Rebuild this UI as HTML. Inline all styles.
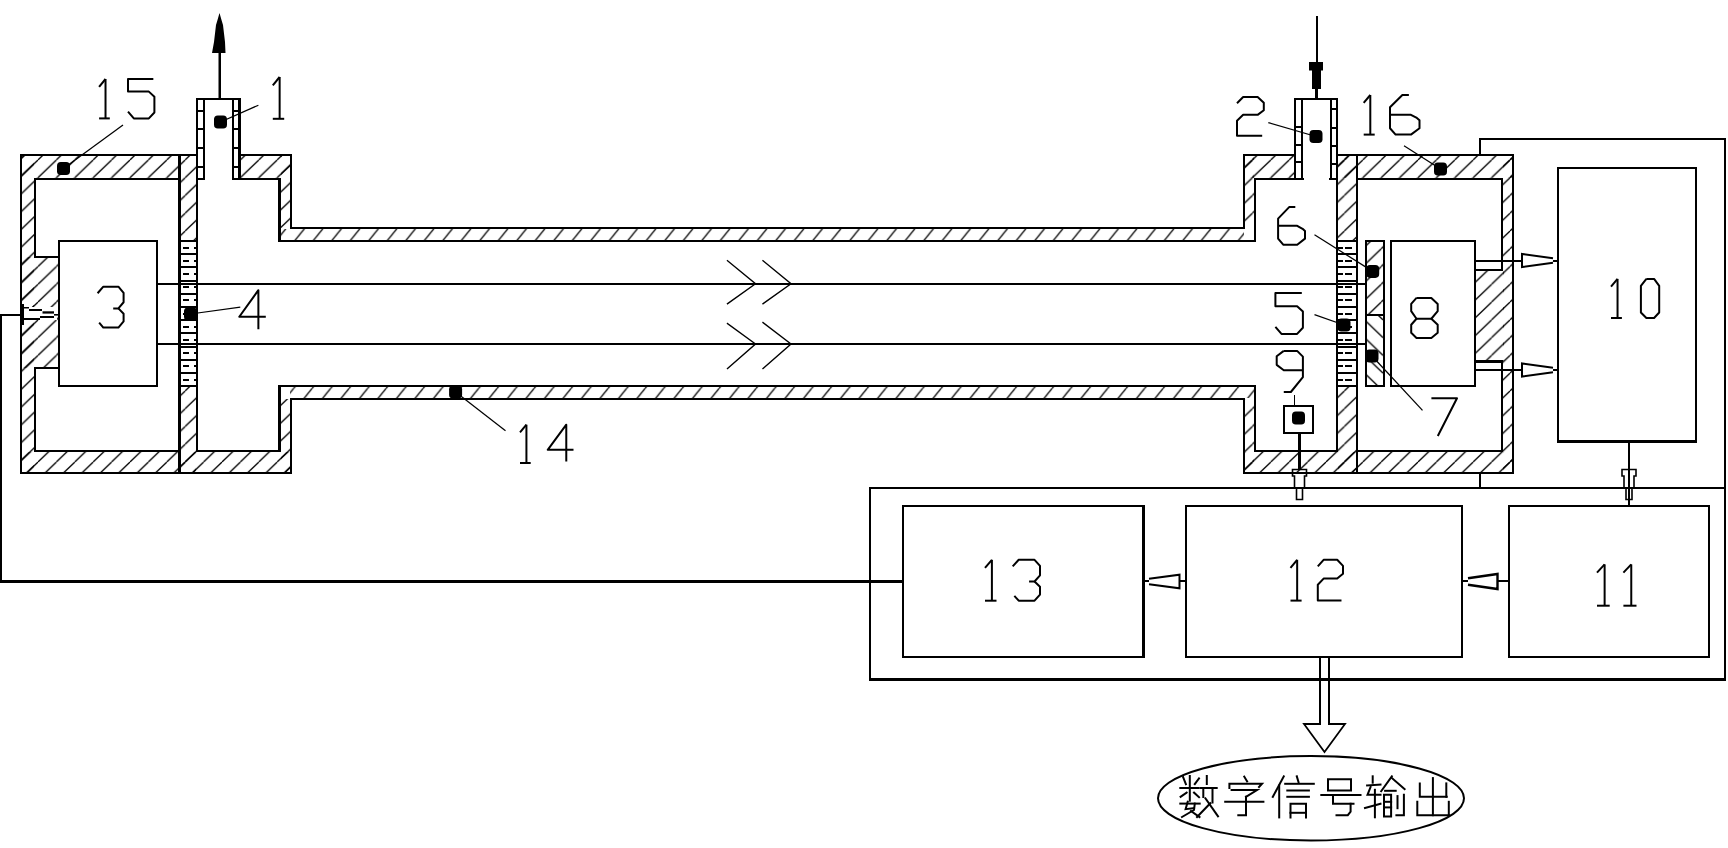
<!DOCTYPE html>
<html><head><meta charset="utf-8"><title>diagram</title>
<style>html,body{margin:0;padding:0;background:#fff;}body{width:1728px;height:848px;overflow:hidden;font-family:"Liberation Sans",sans-serif;}svg{display:block;}</style>
</head><body>
<svg width="1728" height="848" viewBox="0 0 1728 848">
<defs>
<pattern id="h1" patternUnits="userSpaceOnUse" width="18.4" height="17.77" patternTransform="translate(1.2,0)">
  <line x1="-18.4" y1="17.77" x2="0" y2="0" stroke="#000" stroke-width="1.3"/>
  <line x1="0" y1="17.77" x2="18.4" y2="0" stroke="#000" stroke-width="1.3"/>
  <line x1="18.4" y1="17.77" x2="36.8" y2="0" stroke="#000" stroke-width="1.3"/>
</pattern>
<pattern id="h2" patternUnits="userSpaceOnUse" width="18.5" height="22.85" patternTransform="translate(8.6,0)">
  <line x1="-18.5" y1="22.85" x2="0" y2="0" stroke="#000" stroke-width="1.3"/>
  <line x1="0" y1="22.85" x2="18.5" y2="0" stroke="#000" stroke-width="1.3"/>
  <line x1="18.5" y1="22.85" x2="37" y2="0" stroke="#000" stroke-width="1.3"/>
</pattern>
<pattern id="h4" patternUnits="userSpaceOnUse" width="18.5" height="22.85" patternTransform="translate(16.1,0)">
  <line x1="-18.5" y1="22.85" x2="0" y2="0" stroke="#000" stroke-width="1.3"/>
  <line x1="0" y1="22.85" x2="18.5" y2="0" stroke="#000" stroke-width="1.3"/>
  <line x1="18.5" y1="22.85" x2="37" y2="0" stroke="#000" stroke-width="1.3"/>
</pattern>
<pattern id="h3" patternUnits="userSpaceOnUse" width="18.4" height="17.77" patternTransform="translate(3,0)">
  <line x1="-18.4" y1="0" x2="0" y2="17.77" stroke="#000" stroke-width="1.3"/>
  <line x1="0" y1="0" x2="18.4" y2="17.77" stroke="#000" stroke-width="1.3"/>
  <line x1="18.4" y1="0" x2="36.8" y2="17.77" stroke="#000" stroke-width="1.3"/>
</pattern>
</defs>
<rect x="0" y="0" width="1728" height="848" fill="#fff"/>
<g shape-rendering="auto">
<rect x="22" y="156" width="156" height="22" fill="url(#h1)"/>
<rect x="22" y="156" width="12" height="316" fill="url(#h1)"/>
<rect x="22" y="257" width="37" height="111" fill="url(#h1)"/>
<rect x="22" y="452" width="268" height="20" fill="url(#h1)"/>
<rect x="180" y="156" width="16" height="85" fill="url(#h1)"/>
<rect x="180" y="386" width="16" height="86" fill="url(#h1)"/>
<rect x="240" y="156" width="50" height="22" fill="url(#h1)"/>
<rect x="281" y="156" width="9" height="72" fill="url(#h1)"/>
<rect x="281" y="399" width="9" height="73" fill="url(#h1)"/>
<rect x="281" y="229" width="963" height="11" fill="url(#h2)"/>
<rect x="290" y="387" width="964" height="11" fill="url(#h4)"/>
<rect x="1245" y="156" width="9" height="72" fill="url(#h1)"/>
<rect x="1245" y="399" width="9" height="73" fill="url(#h1)"/>
<rect x="1245" y="156" width="50" height="22" fill="url(#h1)"/>
<rect x="1338" y="156" width="174" height="22" fill="url(#h1)"/>
<rect x="1338" y="156" width="18" height="85" fill="url(#h1)"/>
<rect x="1338" y="386" width="18" height="86" fill="url(#h1)"/>
<rect x="1503" y="156" width="9" height="316" fill="url(#h1)"/>
<rect x="1245" y="452" width="267" height="20" fill="url(#h1)"/>
<rect x="1476" y="270" width="28" height="91" fill="url(#h1)"/>
<rect x="1366" y="242" width="18" height="72" fill="url(#h1)"/>
<rect x="1366" y="316" width="18" height="69" fill="url(#h3)"/>
</g>
<g shape-rendering="crispEdges">
<rect x="20" y="154" width="2" height="320"/>
<rect x="20" y="154" width="177" height="2"/>
<rect x="240" y="154" width="52" height="2"/>
<rect x="34" y="178" width="2" height="80"/>
<rect x="34" y="367" width="2" height="85"/>
<rect x="34" y="178" width="146" height="2"/>
<rect x="34" y="256" width="25" height="2"/>
<rect x="34" y="367" width="25" height="2"/>
<rect x="178" y="154" width="3" height="320"/>
<rect x="196" y="98" width="2" height="354"/>
<rect x="196" y="98" width="45" height="2"/>
<rect x="203" y="98" width="2" height="82"/>
<rect x="232" y="98" width="2" height="82"/>
<rect x="238" y="100" width="3" height="80"/>
<rect x="196" y="178" width="9" height="2"/>
<rect x="232" y="178" width="49" height="2"/>
<rect x="278" y="178" width="3" height="64"/>
<rect x="278" y="385" width="3" height="67"/>
<rect x="290" y="154" width="2" height="75"/>
<rect x="290" y="398" width="2" height="76"/>
<rect x="34" y="450" width="146" height="2"/>
<rect x="196" y="450" width="85" height="2"/>
<rect x="20" y="472" width="272" height="2"/>
<rect x="196" y="110" width="9" height="2"/>
<rect x="232" y="110" width="9" height="2"/>
<rect x="196" y="128" width="9" height="2"/>
<rect x="232" y="128" width="9" height="2"/>
<rect x="196" y="147" width="9" height="2"/>
<rect x="232" y="147" width="9" height="2"/>
<rect x="196" y="166" width="9" height="2"/>
<rect x="232" y="166" width="9" height="2"/>
<rect x="290" y="227" width="955" height="2"/>
<rect x="279" y="240" width="977" height="2"/>
<rect x="279" y="385" width="977" height="2"/>
<rect x="290" y="398" width="955" height="2"/>
<rect x="58" y="240" width="100" height="2"/>
<rect x="58" y="385" width="100" height="2"/>
<rect x="58" y="240" width="2" height="147"/>
<rect x="156" y="240" width="2" height="147"/>
<rect x="180" y="240" width="17" height="2"/>
<rect x="183" y="247" width="6" height="2"/>
<rect x="194" y="247" width="2" height="2"/>
<rect x="180" y="253" width="17" height="2"/>
<rect x="183" y="260" width="6" height="2"/>
<rect x="194" y="260" width="2" height="2"/>
<rect x="180" y="266" width="17" height="2"/>
<rect x="183" y="273" width="6" height="2"/>
<rect x="194" y="273" width="2" height="2"/>
<rect x="180" y="280" width="17" height="2"/>
<rect x="183" y="286" width="6" height="2"/>
<rect x="194" y="286" width="2" height="2"/>
<rect x="180" y="293" width="17" height="2"/>
<rect x="183" y="299" width="6" height="2"/>
<rect x="194" y="299" width="2" height="2"/>
<rect x="180" y="306" width="17" height="2"/>
<rect x="183" y="313" width="6" height="2"/>
<rect x="194" y="313" width="2" height="2"/>
<rect x="180" y="319" width="17" height="2"/>
<rect x="183" y="326" width="6" height="2"/>
<rect x="194" y="326" width="2" height="2"/>
<rect x="180" y="332" width="17" height="2"/>
<rect x="183" y="339" width="6" height="2"/>
<rect x="194" y="339" width="2" height="2"/>
<rect x="180" y="346" width="17" height="2"/>
<rect x="183" y="352" width="6" height="2"/>
<rect x="194" y="352" width="2" height="2"/>
<rect x="180" y="359" width="17" height="2"/>
<rect x="183" y="365" width="6" height="2"/>
<rect x="194" y="365" width="2" height="2"/>
<rect x="180" y="372" width="17" height="2"/>
<rect x="183" y="379" width="6" height="2"/>
<rect x="194" y="379" width="2" height="2"/>
<rect x="180" y="385" width="17" height="2"/>
<rect x="1243" y="154" width="2" height="75"/>
<rect x="1243" y="398" width="2" height="76"/>
<rect x="1254" y="178" width="2" height="64"/>
<rect x="1254" y="385" width="2" height="67"/>
<rect x="1243" y="154" width="53" height="2"/>
<rect x="1337" y="154" width="177" height="2"/>
<rect x="1254" y="178" width="50" height="2"/>
<rect x="1356" y="178" width="147" height="2"/>
<rect x="1294" y="98" width="44" height="2"/>
<rect x="1294" y="98" width="2" height="82"/>
<rect x="1301" y="98" width="2" height="82"/>
<rect x="1330" y="98" width="2" height="82"/>
<rect x="1329" y="178" width="9" height="2"/>
<rect x="1336" y="98" width="2" height="354"/>
<rect x="1356" y="154" width="2" height="320"/>
<rect x="1294" y="126" width="9" height="2"/>
<rect x="1294" y="144" width="9" height="2"/>
<rect x="1294" y="161" width="9" height="2"/>
<rect x="1330" y="108" width="8" height="2"/>
<rect x="1330" y="127" width="8" height="2"/>
<rect x="1330" y="145" width="8" height="2"/>
<rect x="1330" y="163" width="8" height="2"/>
<rect x="1512" y="154" width="2" height="320"/>
<rect x="1501" y="178" width="2" height="92"/>
<rect x="1501" y="360" width="2" height="92"/>
<rect x="1254" y="450" width="84" height="2"/>
<rect x="1356" y="450" width="147" height="2"/>
<rect x="1243" y="472" width="271" height="2"/>
<rect x="1338" y="240" width="19" height="2"/>
<rect x="1338" y="247" width="5" height="2"/>
<rect x="1345" y="247" width="7" height="2"/>
<rect x="1338" y="253" width="19" height="2"/>
<rect x="1338" y="260" width="5" height="2"/>
<rect x="1345" y="260" width="7" height="2"/>
<rect x="1338" y="266" width="19" height="2"/>
<rect x="1338" y="273" width="5" height="2"/>
<rect x="1345" y="273" width="7" height="2"/>
<rect x="1338" y="280" width="19" height="2"/>
<rect x="1338" y="286" width="5" height="2"/>
<rect x="1345" y="286" width="7" height="2"/>
<rect x="1338" y="293" width="19" height="2"/>
<rect x="1338" y="299" width="5" height="2"/>
<rect x="1345" y="299" width="7" height="2"/>
<rect x="1338" y="306" width="19" height="2"/>
<rect x="1338" y="313" width="5" height="2"/>
<rect x="1345" y="313" width="7" height="2"/>
<rect x="1338" y="319" width="19" height="2"/>
<rect x="1338" y="326" width="5" height="2"/>
<rect x="1345" y="326" width="7" height="2"/>
<rect x="1338" y="332" width="19" height="2"/>
<rect x="1338" y="339" width="5" height="2"/>
<rect x="1345" y="339" width="7" height="2"/>
<rect x="1338" y="346" width="19" height="2"/>
<rect x="1338" y="352" width="5" height="2"/>
<rect x="1345" y="352" width="7" height="2"/>
<rect x="1338" y="359" width="19" height="2"/>
<rect x="1338" y="365" width="5" height="2"/>
<rect x="1345" y="365" width="7" height="2"/>
<rect x="1338" y="372" width="19" height="2"/>
<rect x="1338" y="379" width="5" height="2"/>
<rect x="1345" y="379" width="7" height="2"/>
<rect x="1338" y="385" width="19" height="2"/>
<rect x="1365" y="240" width="20" height="2"/>
<rect x="1365" y="385" width="20" height="2"/>
<rect x="1365" y="240" width="2" height="147"/>
<rect x="1383" y="240" width="2" height="147"/>
<rect x="1365" y="314" width="20" height="2"/>
<rect x="1390" y="240" width="86" height="2"/>
<rect x="1390" y="385" width="86" height="2"/>
<rect x="1390" y="240" width="2" height="147"/>
<rect x="1474" y="240" width="2" height="147"/>
<rect x="1475" y="269" width="28" height="2"/>
<rect x="1475" y="360" width="28" height="3"/>
<rect x="1475" y="260" width="83" height="2"/>
<rect x="1475" y="369" width="83" height="2"/>
<rect x="157" y="283" width="1209" height="2"/>
<rect x="157" y="343" width="1209" height="2"/>
<rect x="1283" y="405" width="31" height="2"/>
<rect x="1283" y="432" width="31" height="2"/>
<rect x="1283" y="405" width="2" height="29"/>
<rect x="1312" y="405" width="2" height="29"/>
<rect x="1294" y="395" width="1" height="10"/>
<rect x="1298" y="434" width="3" height="36"/>
<rect x="1479" y="138" width="247" height="2"/>
<rect x="1479" y="138" width="2" height="17"/>
<rect x="1479" y="472" width="2" height="17"/>
<rect x="1724" y="138" width="2" height="543"/>
<rect x="869" y="487" width="857" height="2"/>
<rect x="869" y="487" width="2" height="194"/>
<rect x="869" y="678" width="857" height="3"/>
<rect x="1557" y="167" width="140" height="2"/>
<rect x="1557" y="441" width="140" height="2"/>
<rect x="1557" y="167" width="2" height="276"/>
<rect x="1695" y="167" width="2" height="276"/>
<rect x="1557" y="440" width="140" height="3"/>
<rect x="902" y="505" width="243" height="2"/>
<rect x="902" y="656" width="243" height="2"/>
<rect x="902" y="505" width="2" height="153"/>
<rect x="1143" y="505" width="2" height="153"/>
<rect x="1142" y="505" width="3" height="153"/>
<rect x="1185" y="505" width="278" height="2"/>
<rect x="1185" y="656" width="278" height="2"/>
<rect x="1185" y="505" width="2" height="153"/>
<rect x="1461" y="505" width="2" height="153"/>
<rect x="1508" y="505" width="202" height="2"/>
<rect x="1508" y="656" width="202" height="2"/>
<rect x="1508" y="505" width="2" height="153"/>
<rect x="1708" y="505" width="2" height="153"/>
<rect x="1628" y="442" width="2" height="64"/>
<rect x="1462" y="580" width="47" height="2"/>
<rect x="1144" y="580" width="42" height="2"/>
<rect x="0" y="580" width="903" height="3"/>
<rect x="0" y="314" width="2" height="269"/>
<rect x="0" y="314" width="22" height="2"/>
<rect x="20" y="304" width="4" height="21"/>
<rect x="1319" y="657" width="2" height="68"/>
<rect x="1328" y="657" width="2" height="68"/>
</g>
<rect x="22" y="307" width="35" height="13" fill="#fff"/>
<rect x="24" y="307" width="5" height="1.5"/>
<rect x="29" y="309" width="13" height="2"/>
<rect x="42.5" y="311.3" width="11.5" height="2.3"/>
<rect x="40" y="316" width="14" height="2"/>
<rect x="24" y="318" width="16" height="2"/>
<rect x="54" y="314" width="4" height="1.6"/>
<rect x="20" y="304" width="4" height="21"/>
<polyline points="727.50,260.70 755.50,283.70 727.50,303.70" fill="none" stroke="#000" stroke-width="1.4" stroke-linejoin="miter" stroke-linecap="square" stroke-linecap="butt"/>
<polyline points="763.00,260.70 791.00,283.70 763.00,303.70" fill="none" stroke="#000" stroke-width="1.4" stroke-linejoin="miter" stroke-linecap="square" stroke-linecap="butt"/>
<polyline points="727.50,323.50 755.50,344.00 727.50,368.50" fill="none" stroke="#000" stroke-width="1.4" stroke-linejoin="miter" stroke-linecap="square" stroke-linecap="butt"/>
<polyline points="763.00,322.50 791.00,344.00 763.00,368.50" fill="none" stroke="#000" stroke-width="1.4" stroke-linejoin="miter" stroke-linecap="square" stroke-linecap="butt"/>
<polygon points="219.5,13 221.5,20 223,25 225,42 225.5,53 212,53 214,42 216,25 217.5,20"/>
<rect x="218.5" y="52" width="2.5" height="46"/>
<rect x="1316" y="16" width="2" height="48"/>
<polygon points="1309,62 1323,62 1323,70.5 1321,70.5 1321,89 1318,89 1318,98.5 1315,98.5 1315,89 1312,89 1312,70.5 1309,70.5"/>
<path d="M1553,258.3 L1522,254.0 L1522,267.0 L1553,262.7" fill="#fff" stroke="#000" stroke-width="2.0" stroke-linejoin="miter"/>
<path d="M1553,367.8 L1522,363.5 L1522,376.5 L1553,372.2" fill="#fff" stroke="#000" stroke-width="2.0" stroke-linejoin="miter"/>
<path d="M1149,578.7 L1179.5,574.7 L1179.5,588.3 L1149,584.3" fill="#fff" stroke="#000" stroke-width="2.0" stroke-linejoin="miter"/>
<path d="M1468,578.3 L1497.5,574.0 L1497.5,589.0 L1468,584.7" fill="#fff" stroke="#000" stroke-width="2.4" stroke-linejoin="miter"/>
<polyline points="1622.00,476.00 1622.00,469.50 1636.00,469.50 1636.00,476.00 1634.00,476.00 1634.00,487.50 1632.00,488.50 1632.00,499.50 1626.00,499.50 1626.00,488.50 1624.00,487.50 1624.00,476.00 1622.00,476.00" fill="none" stroke="#000" stroke-width="1.6" stroke-linejoin="miter" stroke-linecap="square" />
<polyline points="1292.50,476.00 1292.50,469.50 1306.50,469.50 1306.50,476.00 1304.50,476.00 1304.50,487.50 1302.50,488.50 1302.50,499.50 1296.50,499.50 1296.50,488.50 1294.50,487.50 1294.50,476.00 1292.50,476.00" fill="none" stroke="#000" stroke-width="1.6" stroke-linejoin="miter" stroke-linecap="square" />
<polyline points="1319.00,724.00 1304.00,724.00 1324.50,752.00 1345.00,724.00 1330.00,724.00" fill="none" stroke="#000" stroke-width="1.8" stroke-linejoin="miter" stroke-linecap="square" />
<ellipse cx="1311" cy="798.3" rx="153" ry="42.2" fill="none" stroke="#000" stroke-width="2"/>
<rect x="57.0" y="162.0" width="13.0" height="13.0" rx="3.8"/>
<rect x="214.0" y="115.5" width="13.0" height="13.0" rx="3.8"/>
<rect x="184.0" y="307.5" width="13.0" height="13.0" rx="3.8"/>
<rect x="449.1" y="385.5" width="13.0" height="13.0" rx="3.8"/>
<rect x="1309.5" y="130.0" width="13.0" height="13.0" rx="3.8"/>
<rect x="1434.0" y="162.5" width="13.0" height="13.0" rx="3.8"/>
<rect x="1366.2" y="264.9" width="13.0" height="13.0" rx="3.8"/>
<rect x="1337.5" y="318.5" width="13.0" height="13.0" rx="3.8"/>
<rect x="1365.5" y="349.5" width="13.0" height="13.0" rx="3.8"/>
<rect x="1292.0" y="411.5" width="13.0" height="13.0" rx="3.8"/>
<line x1="63.5" y1="168.5" x2="123" y2="125" stroke="#000" stroke-width="1.25" />
<line x1="220.5" y1="122" x2="258.4" y2="105.2" stroke="#000" stroke-width="1.25" />
<line x1="190.5" y1="314" x2="240.3" y2="307.2" stroke="#000" stroke-width="1.25" />
<line x1="455.6" y1="392" x2="505.5" y2="430.7" stroke="#000" stroke-width="1.25" />
<line x1="1268.3" y1="122.6" x2="1316" y2="136.5" stroke="#000" stroke-width="1.25" />
<line x1="1404" y1="145.8" x2="1440.5" y2="169" stroke="#000" stroke-width="1.25" />
<line x1="1314.5" y1="234.7" x2="1372.7" y2="271.4" stroke="#000" stroke-width="1.25" />
<line x1="1314.5" y1="314.7" x2="1344" y2="325" stroke="#000" stroke-width="1.25" />
<line x1="1372" y1="356" x2="1422.5" y2="410.4" stroke="#000" stroke-width="1.25" />
<polyline points="99.10,86.88 105.52,79.00" fill="none" stroke="#000" stroke-width="2.0" stroke-linejoin="round" stroke-linecap="butt"/>
<polyline points="105.52,79.00 105.52,118.40" fill="none" stroke="#000" stroke-width="2.0" stroke-linejoin="round" stroke-linecap="butt"/>
<polyline points="99.10,118.40 109.80,118.40" fill="none" stroke="#000" stroke-width="2.0" stroke-linejoin="round" stroke-linecap="butt"/>
<polyline points="153.34,79.00 128.00,79.00 128.00,91.61 148.86,91.61 154.40,96.73 154.40,112.49 148.86,118.40 133.81,118.40 128.00,111.70" fill="none" stroke="#000" stroke-width="2.0" stroke-linejoin="round" stroke-linecap="butt"/>
<polyline points="272.80,85.36 279.64,77.00" fill="none" stroke="#000" stroke-width="2.0" stroke-linejoin="round" stroke-linecap="butt"/>
<polyline points="279.64,77.00 279.64,118.80" fill="none" stroke="#000" stroke-width="2.0" stroke-linejoin="round" stroke-linecap="butt"/>
<polyline points="272.80,118.80 284.20,118.80" fill="none" stroke="#000" stroke-width="2.0" stroke-linejoin="round" stroke-linecap="butt"/>
<polyline points="1237.00,103.21 1243.16,97.00 1257.64,97.00 1263.80,102.82 1263.80,110.19 1257.64,114.85 1243.16,114.85 1237.00,120.67 1237.00,135.80 1262.19,135.80" fill="none" stroke="#000" stroke-width="2.0" stroke-linejoin="round" stroke-linecap="butt"/>
<polyline points="1363.70,102.92 1370.30,95.00" fill="none" stroke="#000" stroke-width="2.0" stroke-linejoin="round" stroke-linecap="butt"/>
<polyline points="1370.30,95.00 1370.30,134.60" fill="none" stroke="#000" stroke-width="2.0" stroke-linejoin="round" stroke-linecap="butt"/>
<polyline points="1363.70,134.60 1374.70,134.60" fill="none" stroke="#000" stroke-width="2.0" stroke-linejoin="round" stroke-linecap="butt"/>
<polyline points="1408.88,95.00 1402.39,95.00 1390.00,107.28 1390.00,128.26 1395.61,134.60 1410.94,134.60 1419.50,128.26 1419.50,120.34 1416.85,117.97 1410.94,114.80 1390.00,114.80" fill="none" stroke="#000" stroke-width="2.0" stroke-linejoin="round" stroke-linecap="butt"/>
<polyline points="97.60,293.24 103.32,286.70 118.40,286.70 123.60,292.83 123.60,302.24 118.40,308.38 113.20,308.38" fill="none" stroke="#000" stroke-width="2.0" stroke-linejoin="round" stroke-linecap="butt"/>
<polyline points="118.40,308.38 123.60,313.69 123.60,321.47 118.40,327.60 103.32,327.60 99.16,322.69" fill="none" stroke="#000" stroke-width="2.0" stroke-linejoin="round" stroke-linecap="butt"/>
<polyline points="258.38,329.30 258.38,290.20 239.30,316.79 265.80,316.79" fill="none" stroke="#000" stroke-width="2.0" stroke-linejoin="round" stroke-linecap="butt"/>
<polyline points="1295.32,206.90 1289.40,206.90 1278.10,218.62 1278.10,238.65 1283.21,244.70 1297.20,244.70 1305.00,238.65 1305.00,231.09 1302.58,228.82 1297.20,225.80 1278.10,225.80" fill="none" stroke="#000" stroke-width="2.0" stroke-linejoin="round" stroke-linecap="butt"/>
<polyline points="1301.80,293.10 1275.40,293.10 1275.40,306.16 1297.12,306.16 1302.90,311.46 1302.90,327.78 1297.12,333.90 1281.45,333.90 1275.40,326.96" fill="none" stroke="#000" stroke-width="2.0" stroke-linejoin="round" stroke-linecap="butt"/>
<polyline points="1283.77,350.90 1297.14,350.90 1302.90,356.65 1302.90,377.20 1290.85,392.00 1283.77,392.00" fill="none" stroke="#000" stroke-width="2.0" stroke-linejoin="round" stroke-linecap="butt"/>
<polyline points="1283.77,350.90 1276.70,356.24 1276.70,364.87 1283.77,370.22 1302.90,370.22" fill="none" stroke="#000" stroke-width="2.0" stroke-linejoin="round" stroke-linecap="butt"/>
<polyline points="1416.50,297.90 1431.34,297.90 1437.70,303.91 1437.70,311.13 1431.34,318.75 1437.70,324.77 1437.70,332.79 1431.34,338.00 1416.50,338.00 1411.20,332.79 1411.20,324.77 1416.50,318.75 1411.20,311.13 1411.20,303.91 1416.50,297.90" fill="none" stroke="#000" stroke-width="2.0" stroke-linejoin="round" stroke-linecap="butt"/>
<polyline points="1416.50,318.75 1431.34,318.75" fill="none" stroke="#000" stroke-width="2.0" stroke-linejoin="round" stroke-linecap="butt"/>
<polyline points="1431.40,398.20 1457.00,398.20 1437.80,436.00" fill="none" stroke="#000" stroke-width="2.0" stroke-linejoin="round" stroke-linecap="butt"/>
<polyline points="1611.00,286.72 1617.54,278.90" fill="none" stroke="#000" stroke-width="2.0" stroke-linejoin="round" stroke-linecap="butt"/>
<polyline points="1617.54,278.90 1617.54,318.00" fill="none" stroke="#000" stroke-width="2.0" stroke-linejoin="round" stroke-linecap="butt"/>
<polyline points="1611.00,318.00 1621.90,318.00" fill="none" stroke="#000" stroke-width="2.0" stroke-linejoin="round" stroke-linecap="butt"/>
<polyline points="1646.39,278.90 1654.08,278.90 1659.20,285.94 1659.20,312.53 1654.08,318.00 1646.39,318.00 1640.90,312.53 1640.90,285.94 1646.39,278.90" fill="none" stroke="#000" stroke-width="2.0" stroke-linejoin="round" stroke-linecap="butt"/>
<polyline points="1597.00,572.66 1604.62,564.40" fill="none" stroke="#000" stroke-width="2.0" stroke-linejoin="round" stroke-linecap="butt"/>
<polyline points="1604.62,564.40 1604.62,605.70" fill="none" stroke="#000" stroke-width="2.0" stroke-linejoin="round" stroke-linecap="butt"/>
<polyline points="1597.00,605.70 1609.70,605.70" fill="none" stroke="#000" stroke-width="2.0" stroke-linejoin="round" stroke-linecap="butt"/>
<polyline points="1623.40,572.66 1631.26,564.40" fill="none" stroke="#000" stroke-width="2.0" stroke-linejoin="round" stroke-linecap="butt"/>
<polyline points="1631.26,564.40 1631.26,605.70" fill="none" stroke="#000" stroke-width="2.0" stroke-linejoin="round" stroke-linecap="butt"/>
<polyline points="1623.40,605.70 1636.50,605.70" fill="none" stroke="#000" stroke-width="2.0" stroke-linejoin="round" stroke-linecap="butt"/>
<polyline points="1290.50,567.96 1297.16,559.80" fill="none" stroke="#000" stroke-width="2.0" stroke-linejoin="round" stroke-linecap="butt"/>
<polyline points="1297.16,559.80 1297.16,600.60" fill="none" stroke="#000" stroke-width="2.0" stroke-linejoin="round" stroke-linecap="butt"/>
<polyline points="1290.50,600.60 1301.60,600.60" fill="none" stroke="#000" stroke-width="2.0" stroke-linejoin="round" stroke-linecap="butt"/>
<polyline points="1317.80,566.33 1323.60,559.80 1337.20,559.80 1343.00,565.92 1343.00,573.67 1337.20,578.57 1323.60,578.57 1317.80,584.69 1317.80,600.60 1341.49,600.60" fill="none" stroke="#000" stroke-width="2.0" stroke-linejoin="round" stroke-linecap="butt"/>
<polyline points="985.00,567.98 991.90,559.80" fill="none" stroke="#000" stroke-width="2.0" stroke-linejoin="round" stroke-linecap="butt"/>
<polyline points="991.90,559.80 991.90,600.70" fill="none" stroke="#000" stroke-width="2.0" stroke-linejoin="round" stroke-linecap="butt"/>
<polyline points="985.00,600.70 996.50,600.70" fill="none" stroke="#000" stroke-width="2.0" stroke-linejoin="round" stroke-linecap="butt"/>
<polyline points="1012.70,566.34 1018.71,559.80 1034.54,559.80 1040.00,565.93 1040.00,575.34 1034.54,581.48 1029.08,581.48" fill="none" stroke="#000" stroke-width="2.0" stroke-linejoin="round" stroke-linecap="butt"/>
<polyline points="1034.54,581.48 1040.00,586.79 1040.00,594.57 1034.54,600.70 1018.71,600.70 1014.34,595.79" fill="none" stroke="#000" stroke-width="2.0" stroke-linejoin="round" stroke-linecap="butt"/>
<polyline points="520.00,432.36 526.42,424.70" fill="none" stroke="#000" stroke-width="2.0" stroke-linejoin="round" stroke-linecap="butt"/>
<polyline points="526.42,424.70 526.42,463.00" fill="none" stroke="#000" stroke-width="2.0" stroke-linejoin="round" stroke-linecap="butt"/>
<polyline points="520.00,463.00 530.70,463.00" fill="none" stroke="#000" stroke-width="2.0" stroke-linejoin="round" stroke-linecap="butt"/>
<polyline points="566.28,461.60 566.28,424.70 547.70,449.79 573.50,449.79" fill="none" stroke="#000" stroke-width="2.0" stroke-linejoin="round" stroke-linecap="butt"/>
<polyline points="1189.80,776.00 1189.80,800.70" fill="none" stroke="#000" stroke-width="2.0" stroke-linejoin="miter" stroke-linecap="square"/>
<polyline points="1183.10,777.00 1185.90,784.10" fill="none" stroke="#000" stroke-width="2.0" stroke-linejoin="miter" stroke-linecap="square"/>
<polyline points="1199.00,778.40 1194.80,784.10" fill="none" stroke="#000" stroke-width="2.0" stroke-linejoin="miter" stroke-linecap="square"/>
<polyline points="1180.30,788.00 1198.50,788.00" fill="none" stroke="#000" stroke-width="2.0" stroke-linejoin="miter" stroke-linecap="square"/>
<polyline points="1186.60,792.60 1180.60,796.80" fill="none" stroke="#000" stroke-width="2.0" stroke-linejoin="miter" stroke-linecap="square"/>
<polyline points="1194.00,792.60 1199.00,797.20" fill="none" stroke="#000" stroke-width="2.0" stroke-linejoin="miter" stroke-linecap="square"/>
<polyline points="1180.30,803.60 1199.70,803.60" fill="none" stroke="#000" stroke-width="2.0" stroke-linejoin="miter" stroke-linecap="square"/>
<polyline points="1187.70,801.80 1185.60,809.20 1194.00,808.20" fill="none" stroke="#000" stroke-width="2.0" stroke-linejoin="miter" stroke-linecap="square"/>
<polyline points="1194.80,803.60 1194.00,810.00 1182.00,817.00" fill="none" stroke="#000" stroke-width="2.0" stroke-linejoin="miter" stroke-linecap="square"/>
<polyline points="1191.00,811.00 1199.50,817.00" fill="none" stroke="#000" stroke-width="2.0" stroke-linejoin="miter" stroke-linecap="square"/>
<polyline points="1206.80,776.00 1206.80,784.00" fill="none" stroke="#000" stroke-width="2.0" stroke-linejoin="miter" stroke-linecap="square"/>
<polyline points="1200.40,788.00 1216.70,788.00" fill="none" stroke="#000" stroke-width="2.0" stroke-linejoin="miter" stroke-linecap="square"/>
<polyline points="1203.30,788.00 1203.30,797.00" fill="none" stroke="#000" stroke-width="2.0" stroke-linejoin="miter" stroke-linecap="square"/>
<polyline points="1212.50,788.00 1212.50,802.50" fill="none" stroke="#000" stroke-width="2.0" stroke-linejoin="miter" stroke-linecap="square"/>
<polyline points="1205.40,798.30 1218.00,816.30" fill="none" stroke="#000" stroke-width="2.0" stroke-linejoin="miter" stroke-linecap="square"/>
<polyline points="1210.30,803.20 1197.00,817.00" fill="none" stroke="#000" stroke-width="2.0" stroke-linejoin="miter" stroke-linecap="square"/>
<polyline points="1244.30,776.70 1247.10,781.30" fill="none" stroke="#000" stroke-width="2.0" stroke-linejoin="miter" stroke-linecap="square"/>
<polyline points="1229.40,788.00 1229.40,783.80 1262.00,783.80 1259.00,787.00" fill="none" stroke="#000" stroke-width="2.0" stroke-linejoin="miter" stroke-linecap="square"/>
<polyline points="1231.60,790.10 1257.00,790.10 1246.00,796.80" fill="none" stroke="#000" stroke-width="2.0" stroke-linejoin="miter" stroke-linecap="square"/>
<polyline points="1246.00,796.80 1246.00,815.20 1238.30,815.20" fill="none" stroke="#000" stroke-width="2.0" stroke-linejoin="miter" stroke-linecap="square"/>
<polyline points="1225.20,801.80 1263.40,801.80" fill="none" stroke="#000" stroke-width="2.0" stroke-linejoin="miter" stroke-linecap="square"/>
<polyline points="1283.80,776.30 1272.80,796.80" fill="none" stroke="#000" stroke-width="2.0" stroke-linejoin="miter" stroke-linecap="square"/>
<polyline points="1279.20,785.50 1279.20,817.40" fill="none" stroke="#000" stroke-width="2.0" stroke-linejoin="miter" stroke-linecap="square"/>
<polyline points="1296.80,776.30 1298.50,782.00" fill="none" stroke="#000" stroke-width="2.0" stroke-linejoin="miter" stroke-linecap="square"/>
<polyline points="1285.20,783.80 1313.80,783.80" fill="none" stroke="#000" stroke-width="2.0" stroke-linejoin="miter" stroke-linecap="square"/>
<polyline points="1287.30,790.50 1308.90,790.50" fill="none" stroke="#000" stroke-width="2.0" stroke-linejoin="miter" stroke-linecap="square"/>
<polyline points="1287.30,796.80 1308.90,796.80" fill="none" stroke="#000" stroke-width="2.0" stroke-linejoin="miter" stroke-linecap="square"/>
<polyline points="1290.50,817.40 1290.50,803.80 1306.00,803.80 1306.00,817.40" fill="none" stroke="#000" stroke-width="2.0" stroke-linejoin="miter" stroke-linecap="square"/>
<polyline points="1290.50,812.80 1306.00,812.80" fill="none" stroke="#000" stroke-width="2.0" stroke-linejoin="miter" stroke-linecap="square"/>
<polyline points="1328.00,779.20 1351.00,779.20 1351.00,790.50 1328.00,790.50 1328.00,779.20" fill="none" stroke="#000" stroke-width="2.0" stroke-linejoin="miter" stroke-linecap="square"/>
<polyline points="1321.30,795.00 1360.50,795.00" fill="none" stroke="#000" stroke-width="2.0" stroke-linejoin="miter" stroke-linecap="square"/>
<polyline points="1333.00,795.00 1333.00,803.80 1353.50,803.80" fill="none" stroke="#000" stroke-width="2.0" stroke-linejoin="miter" stroke-linecap="square"/>
<polyline points="1350.60,803.80 1350.60,811.70 1347.80,815.20 1336.50,815.20" fill="none" stroke="#000" stroke-width="2.0" stroke-linejoin="miter" stroke-linecap="square"/>
<polyline points="1372.70,776.30 1372.70,782.70" fill="none" stroke="#000" stroke-width="2.0" stroke-linejoin="miter" stroke-linecap="square"/>
<polyline points="1367.10,785.50 1380.50,784.50" fill="none" stroke="#000" stroke-width="2.0" stroke-linejoin="miter" stroke-linecap="square"/>
<polyline points="1370.60,787.00 1367.50,794.80 1380.50,794.80" fill="none" stroke="#000" stroke-width="2.0" stroke-linejoin="miter" stroke-linecap="square"/>
<polyline points="1374.90,789.80 1374.90,817.30" fill="none" stroke="#000" stroke-width="2.0" stroke-linejoin="miter" stroke-linecap="square"/>
<polyline points="1365.00,808.00 1380.50,803.80" fill="none" stroke="#000" stroke-width="2.0" stroke-linejoin="miter" stroke-linecap="square"/>
<polyline points="1391.80,776.30 1381.20,791.20" fill="none" stroke="#000" stroke-width="2.0" stroke-linejoin="miter" stroke-linecap="square"/>
<polyline points="1391.80,778.00 1404.60,789.00" fill="none" stroke="#000" stroke-width="2.0" stroke-linejoin="miter" stroke-linecap="square"/>
<polyline points="1385.10,790.80 1395.70,790.80" fill="none" stroke="#000" stroke-width="2.0" stroke-linejoin="miter" stroke-linecap="square"/>
<polyline points="1384.00,816.60 1384.00,794.70 1391.10,794.70 1391.10,816.60 1384.00,816.60" fill="none" stroke="#000" stroke-width="2.0" stroke-linejoin="miter" stroke-linecap="square"/>
<polyline points="1384.00,801.80 1391.10,801.80" fill="none" stroke="#000" stroke-width="2.0" stroke-linejoin="miter" stroke-linecap="square"/>
<polyline points="1384.00,807.40 1391.10,807.40" fill="none" stroke="#000" stroke-width="2.0" stroke-linejoin="miter" stroke-linecap="square"/>
<polyline points="1397.50,796.10 1397.50,808.20" fill="none" stroke="#000" stroke-width="2.0" stroke-linejoin="miter" stroke-linecap="square"/>
<polyline points="1403.90,794.70 1403.90,815.20 1396.40,815.20" fill="none" stroke="#000" stroke-width="2.0" stroke-linejoin="miter" stroke-linecap="square"/>
<polyline points="1432.90,778.10 1432.90,815.20" fill="none" stroke="#000" stroke-width="2.0" stroke-linejoin="miter" stroke-linecap="square"/>
<polyline points="1419.80,783.40 1419.80,796.80 1446.70,796.80" fill="none" stroke="#000" stroke-width="2.0" stroke-linejoin="miter" stroke-linecap="square"/>
<polyline points="1446.30,783.40 1446.30,796.80" fill="none" stroke="#000" stroke-width="2.0" stroke-linejoin="miter" stroke-linecap="square"/>
<polyline points="1417.30,801.80 1417.30,815.20 1449.10,815.20" fill="none" stroke="#000" stroke-width="2.0" stroke-linejoin="miter" stroke-linecap="square"/>
<polyline points="1448.80,801.80 1448.80,815.20" fill="none" stroke="#000" stroke-width="2.0" stroke-linejoin="miter" stroke-linecap="square"/>
</svg>
</body></html>
